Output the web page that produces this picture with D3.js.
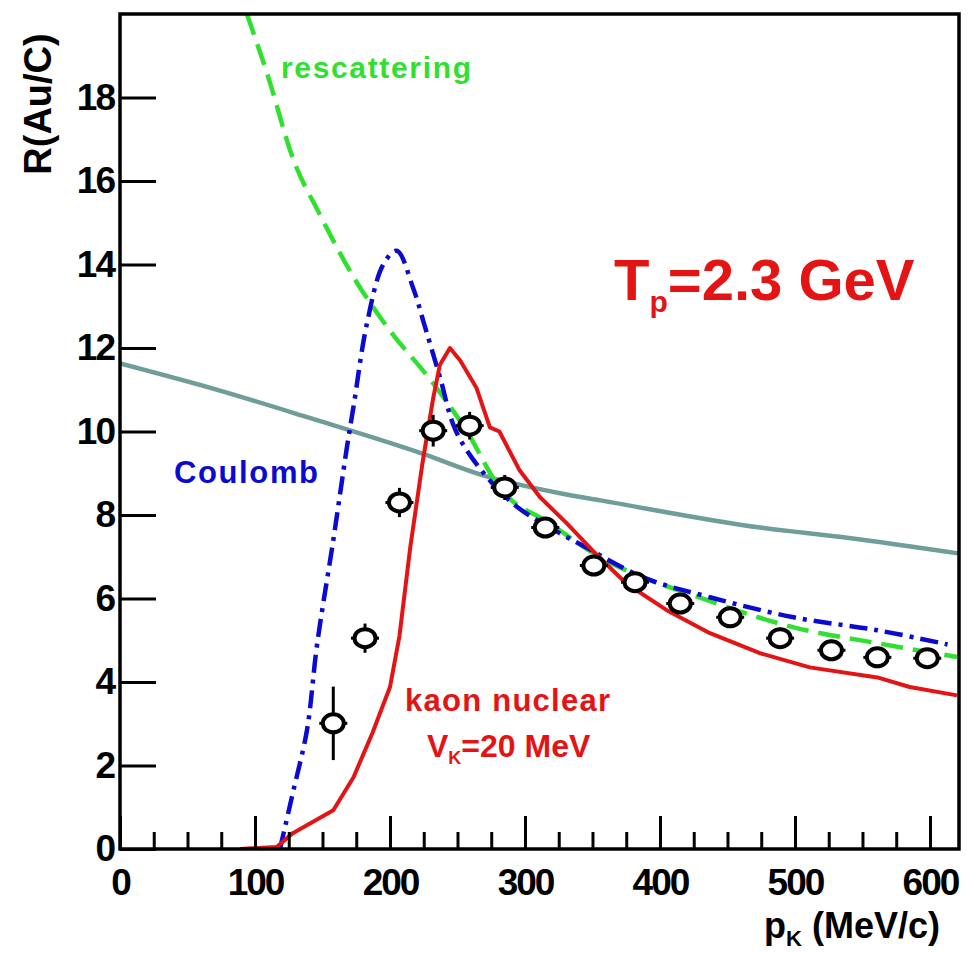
<!DOCTYPE html>
<html>
<head>
<meta charset="utf-8">
<title>R(Au/C) vs pK</title>
<script src="https://d3js.org/d3.v7.min.js"></script>
<style>
  body { margin: 0; background: #fff; }
  text { font-family: "Liberation Sans", Arial, sans-serif; font-weight: bold; }
</style>
</head>
<body>
<script>

// measured ratio, open circles with error bars
var dataP   = [158, 181.5, 207, 232, 259, 285, 315, 351, 381.5, 415, 452, 489, 527, 561, 598];
var dataR   = [3.01, 5.05, 8.30, 10.02, 10.14, 8.66, 7.70, 6.79, 6.39, 5.88, 5.55, 5.05, 4.76, 4.59, 4.57];
var dataErr = [0.88, 0.35, 0.35, 0.38, 0.33, 0.30, 0.25, 0.25, 0.22, 0.25, 0.25, 0.25, 0.25, 0.22, 0.22];

// unlabelled solid teal curve
var tealP = [0, 74, 140, 224, 269, 326, 356, 474, 540, 621];
var tealR = [11.63, 10.98, 10.33, 9.47, 8.95, 8.52, 8.35, 7.70, 7.45, 7.08];

// rescattering (green dashed)
var rescP = [94, 110, 128, 148, 173, 198, 232, 257, 281, 318.5, 350, 435, 499, 561, 620];
var rescR = [20, 18.47, 16.55, 15.2, 13.7, 12.5, 11.15, 10.0, 8.66, 7.8, 7.1, 5.96, 5.31, 4.93, 4.6];

// Coulomb (blue dash-dot)
var coulP = [118.5, 128, 138.5, 146, 158, 168, 173, 183, 195, 205, 217, 226, 237, 249, 272, 294, 326, 341, 388, 437, 499, 561, 613];
var coulR = [0, 1.34, 2.85, 4.9, 7.4, 9.6, 10.6, 12.6, 14.0, 14.33, 13.45, 12.5, 11.3, 10.0, 8.9, 8.2, 7.56, 7.3, 6.5, 6.03, 5.55, 5.24, 4.9];

// kaon nuclear, V_K = 20 MeV (red solid)
var kaonP = [89, 116, 128, 143, 158, 173, 187, 200, 207, 215, 224, 232, 237, 244.4, 252, 264, 274, 281, 296, 311, 331, 350, 375, 405, 437, 474, 511, 561, 585, 620];
var kaonR = [0, 0.05, 0.38, 0.65, 0.93, 1.72, 2.78, 3.88, 5.1, 7.22, 9.23, 10.8, 11.6, 12.0, 11.7, 11.05, 10.1, 10.0, 9.07, 8.43, 7.8, 7.15, 6.36, 5.72, 5.17, 4.69, 4.35, 4.11, 3.88, 3.68];

var xTicks = [0, 100, 200, 300, 400, 500, 600];
var yTicks = [0, 2, 4, 6, 8, 10, 12, 14, 16, 18];

var width = 970, height = 953;
var fLeft = 120, fRight = 959, fTop = 14, fBottom = 849;

var svg = d3.select("body").append("svg")
    .attr("width", width)
    .attr("height", height);

var x = d3.scaleLinear().domain([0, 621.5]).range([fLeft, fRight]);
var y = d3.scaleLinear().domain([0, 20]).range([fBottom, fTop]);

function pairs(ps, rs) {
  return ps.map(function(p, i) { return [p, rs[i]]; });
}

svg.append("clipPath").attr("id", "frame")
  .append("rect")
    .attr("x", fLeft).attr("y", fTop)
    .attr("width", fRight - fLeft).attr("height", fBottom - fTop);

var plot = svg.append("g").attr("clip-path", "url(#frame)");

// curves
var line = d3.line()
    .x(function(d) { return x(d[0]); })
    .y(function(d) { return y(d[1]); });

plot.append("path")
    .datum(pairs(tealP, tealR))
    .attr("fill", "none")
    .attr("stroke", "#6f9d99")
    .attr("stroke-width", 4.5)
    .attr("d", line.curve(d3.curveMonotoneX));

plot.append("path")
    .datum(pairs(rescP, rescR))
    .attr("fill", "none")
    .attr("stroke", "#2fe02f")
    .attr("stroke-width", 4.5)
    .attr("stroke-dasharray", "22,10")
    .attr("d", line.curve(d3.curveMonotoneX));

plot.append("path")
    .datum(pairs(coulP, coulR))
    .attr("fill", "none")
    .attr("stroke", "#0a0ad0")
    .attr("stroke-width", 4.5)
    .attr("stroke-dasharray", "18,7,4,7")
    .attr("d", line.curve(d3.curveCatmullRom));

plot.append("path")
    .datum(pairs(kaonP, kaonR))
    .attr("fill", "none")
    .attr("stroke", "#e41414")
    .attr("stroke-width", 4)
    .attr("stroke-linejoin", "round")
    .attr("d", line.curve(d3.curveLinear));

// data points
var pts = svg.append("g")
  .selectAll("g")
  .data(dataP.map(function(p, i) { return {p: p, r: dataR[i], e: dataErr[i]}; }))
  .enter().append("g")
    .attr("transform", function(d) { return "translate(" + x(d.p) + "," + y(d.r) + ")"; });

pts.append("line")
    .attr("x1", 0).attr("x2", 0)
    .attr("y1", function(d) { return y(d.r + d.e) - y(d.r); })
    .attr("y2", function(d) { return y(d.r - d.e) - y(d.r); })
    .attr("stroke", "#000").attr("stroke-width", 3);

pts.append("line")
    .attr("x1", -14).attr("x2", 14)
    .attr("y1", 0).attr("y2", 0)
    .attr("stroke", "#000").attr("stroke-width", 3);

pts.append("ellipse")
    .attr("rx", 10.5).attr("ry", 9)
    .attr("fill", "#fff")
    .attr("stroke", "#000")
    .attr("stroke-width", 4);

// axes
var yAxis = svg.append("g")
    .attr("transform", "translate(" + fLeft + ",0)")
    .call(d3.axisLeft(y).tickValues(yTicks).tickSize(-36).tickPadding(6));

var xMinor = svg.append("g")
    .attr("transform", "translate(0," + fBottom + ")")
    .call(d3.axisBottom(x)
      .tickValues(d3.range(25, 625, 25).filter(function(v) { return v % 100 !== 0; }))
      .tickSize(-17).tickFormat(""));

var xAxis = svg.append("g")
    .attr("transform", "translate(0," + fBottom + ")")
    .call(d3.axisBottom(x).tickValues(xTicks).tickSize(-33).tickPadding(20));

[yAxis, xAxis, xMinor].forEach(function(a) {
  a.select(".domain").remove();
  a.selectAll(".tick line").attr("stroke", "#000").attr("stroke-width", 3);
  a.selectAll(".tick text")
    .attr("fill", "#000")
    .style("font-size", "37px")
    .style("letter-spacing", "-2px");
});

// frame
svg.append("rect")
    .attr("x", fLeft).attr("y", fTop)
    .attr("width", fRight - fLeft).attr("height", fBottom - fTop)
    .attr("fill", "none")
    .attr("stroke", "#000")
    .attr("stroke-width", 3.5);

// axis titles
svg.append("text")
    .attr("transform", "translate(51,104) rotate(-90)")
    .attr("text-anchor", "middle")
    .style("font-size", "38px")
    .text("R(Au/C)");

var xt = svg.append("text")
    .attr("x", 940).attr("y", 938)
    .attr("text-anchor", "end")
    .style("font-size", "36px");
xt.append("tspan").text("p");
xt.append("tspan").attr("dy", 8).style("font-size", "22px").text("K");
xt.append("tspan").attr("dy", -8).text(" (MeV/c)");

// annotations
svg.append("text")
    .attr("x", 281).attr("y", 78)
    .attr("fill", "#2fe02f")
    .attr("textLength", 190)
    .attr("lengthAdjust", "spacing")
    .style("font-size", "30px")
    .text("rescattering");

svg.append("text")
    .attr("x", 174).attr("y", 483)
    .attr("fill", "#0a0ad0")
    .attr("textLength", 144)
    .attr("lengthAdjust", "spacing")
    .style("font-size", "31px")
    .text("Coulomb");

svg.append("text")
    .attr("x", 405).attr("y", 711)
    .attr("fill", "#e41414")
    .attr("textLength", 205)
    .attr("lengthAdjust", "spacing")
    .style("font-size", "31px")
    .text("kaon nuclear");

var vk = svg.append("text")
    .attr("x", 427).attr("y", 757)
    .attr("fill", "#e41414")
    .style("font-size", "32px");
vk.append("tspan").text("V");
vk.append("tspan").attr("dy", 7).style("font-size", "18px").text("K");
vk.append("tspan").attr("dy", -7).text("=20 MeV");

var tp = svg.append("text")
    .attr("x", 614).attr("y", 300)
    .attr("fill", "#e41414")
    .style("font-size", "58px");
tp.append("tspan").text("T");
tp.append("tspan").attr("dy", 12).style("font-size", "30px").text("p");
tp.append("tspan").attr("dy", -12).text("=2.3 GeV");

</script>
</body>
</html>
